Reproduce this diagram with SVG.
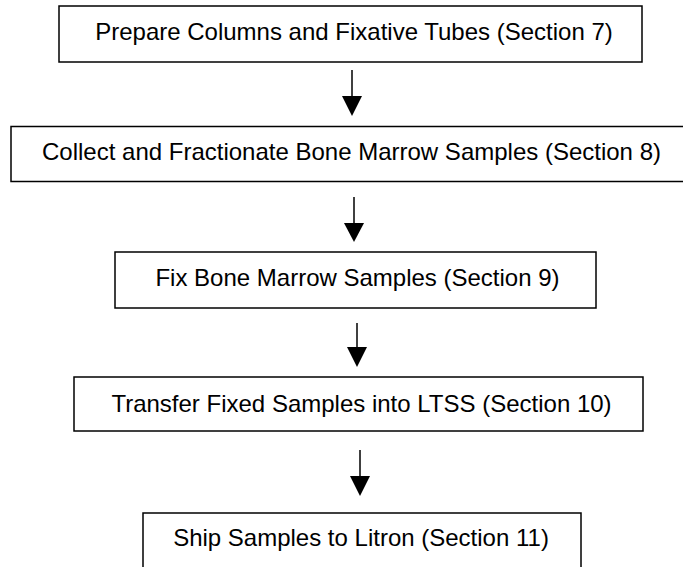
<svg xmlns="http://www.w3.org/2000/svg" width="683" height="567" viewBox="0 0 683 567">
<style>
.box{fill:#fff;stroke:#000;stroke-width:1.5}
.lbl{font-family:"Liberation Sans",Arial,Helvetica,sans-serif;font-size:24px;fill:#000;text-anchor:middle}
.ln{stroke:#000;stroke-width:1.5;fill:none}
.hd{fill:#000}
</style>
<rect width="683" height="567" fill="#fff"/>
<g id="n1"><rect class="box" x="59" y="6" width="583" height="56"/><text class="lbl" x="354" y="40">Prepare Columns and Fixative Tubes (Section 7)</text></g>
<g id="n2"><rect class="box" x="11" y="126.5" width="690" height="55"/><text class="lbl" x="351.5" y="160">Collect and Fractionate Bone Marrow Samples (Section 8)</text></g>
<g id="n3"><rect class="box" x="115" y="252" width="481" height="56"/><text class="lbl" x="357.5" y="285.5">Fix Bone Marrow Samples (Section 9)</text></g>
<g id="n4"><rect class="box" x="74" y="377" width="569" height="54"/><text class="lbl" x="361.5" y="411.5">Transfer Fixed Samples into LTSS (Section 10)</text></g>
<g id="n5"><rect class="box" x="143" y="513" width="438" height="60"/><text class="lbl" x="361" y="546">Ship Samples to Litron (Section 11)</text></g>
<g id="connectors">
<line class="ln" x1="352" y1="70" x2="352" y2="97"/><polygon class="hd" points="342,96 362,96 352,116"/>
<line class="ln" x1="354" y1="197" x2="354" y2="224"/><polygon class="hd" points="344,223 364,223 354,242"/>
<line class="ln" x1="357" y1="323" x2="357" y2="348"/><polygon class="hd" points="347,347 367,347 357,367"/>
<line class="ln" x1="360" y1="450" x2="360" y2="477"/><polygon class="hd" points="350,476 370,476 360,496"/>
</g>
</svg>
